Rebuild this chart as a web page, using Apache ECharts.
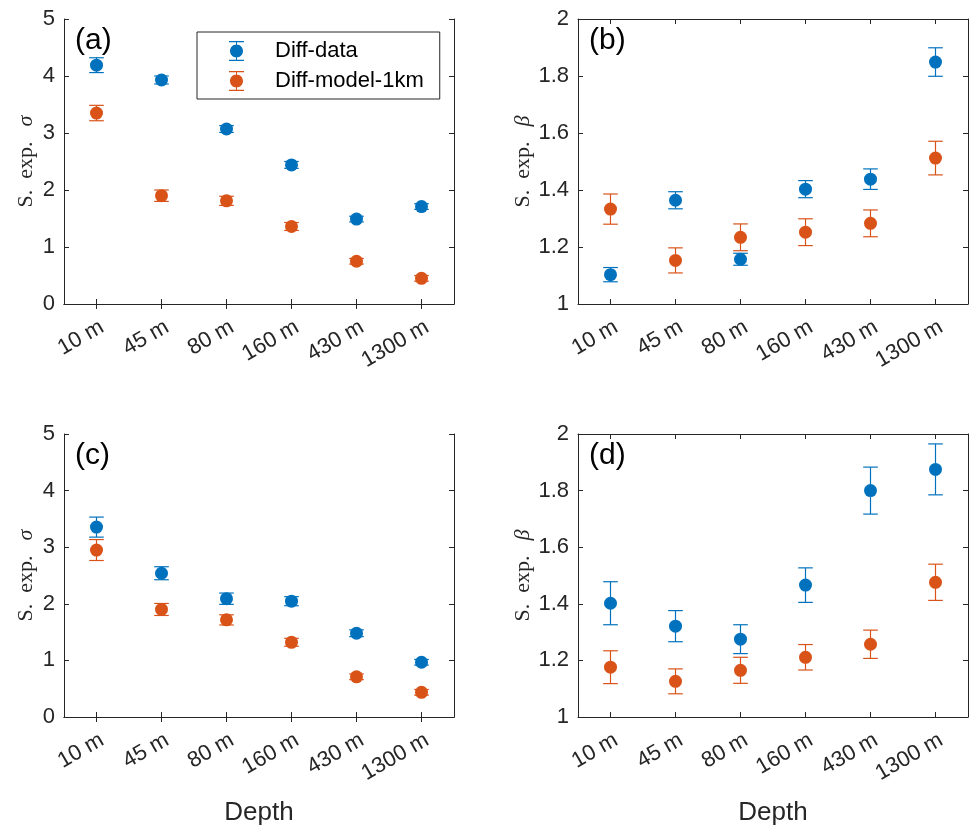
<!DOCTYPE html>
<html>
<head>
<meta charset="utf-8">
<script src="https://cdn.jsdelivr.net/npm/echarts@6/dist/echarts.min.js"></script>
<style>
html,body{margin:0;padding:0;background:#fff;}
#chart{width:979px;height:838px;}
</style>
</head>
<body>
<div id="chart"></div>
<script>
// ---- data ----
const categories = ['10 m', '45 m', '80 m', '160 m', '430 m', '1300 m'];
const seriesNames = ['Diff-data', 'Diff-model-1km'];

// (a) sigma
const aDataVal  = [4.19, 3.93, 3.07, 2.44, 1.49, 1.71];
const aDataErr  = [0.13, 0.07, 0.06, 0.06, 0.05, 0.05];
const aModelVal = [3.35, 1.90, 1.81, 1.36, 0.75, 0.45];
const aModelErr = [0.135, 0.10, 0.08, 0.07, 0.05, 0.05];
// (b) beta
const bDataVal  = [1.103, 1.364, 1.157, 1.403, 1.438, 1.849];
const bDataErr  = [0.025, 0.030, 0.021, 0.030, 0.036, 0.050];
const bModelVal = [1.333, 1.153, 1.234, 1.252, 1.283, 1.512];
const bModelErr = [0.053, 0.044, 0.047, 0.047, 0.047, 0.059];
// (c) sigma
const cDataVal  = [3.355, 2.54, 2.09, 2.046, 1.48, 0.967];
const cDataErr  = [0.177, 0.115, 0.10, 0.08, 0.06, 0.05];
const cModelVal = [2.95, 1.90, 1.716, 1.32, 0.71, 0.436];
const cModelErr = [0.185, 0.106, 0.09, 0.07, 0.05, 0.05];
// (d) beta
const dDataVal  = [1.402, 1.321, 1.275, 1.466, 1.800, 1.875];
const dDataErr  = [0.076, 0.055, 0.051, 0.061, 0.083, 0.090];
const dModelVal = [1.176, 1.126, 1.165, 1.211, 1.257, 1.476];
const dModelErr = [0.058, 0.044, 0.046, 0.045, 0.050, 0.064];

const sigmaTicks = [0, 5, 1];
const betaTicks = [1, 2, 0.2];
const panelLabels = ['(a)', '(b)', '(c)', '(d)'];

// ---- styling ----
const BLUE = '#0072BD', ORANGE = '#D95319', INK = '#262626';
const SANS = 'Liberation Sans, Arial, Helvetica, sans-serif';
const SERIF = 'Liberation Serif, Times New Roman, serif';

const panels = [
  {grid:{left:64, top:19, width:390, height:285}, dv:aDataVal, de:aDataErr, mv:aModelVal, me:aModelErr, ticks:sigmaTicks, sym:'σ', xname:''},
  {grid:{left:578, top:19, width:390, height:285}, dv:bDataVal, de:bDataErr, mv:bModelVal, me:bModelErr, ticks:betaTicks, sym:'β', xname:''},
  {grid:{left:64, top:434, width:390, height:283}, dv:cDataVal, de:cDataErr, mv:cModelVal, me:cModelErr, ticks:sigmaTicks, sym:'σ', xname:'Depth'},
  {grid:{left:578, top:434, width:390, height:283}, dv:dDataVal, de:dDataErr, mv:dModelVal, me:dModelErr, ticks:betaTicks, sym:'β', xname:'Depth'}
];

function errData(vals, errs) {
  return vals.map((v, i) => [i, v - errs[i], v + errs[i]]);
}

function renderErr(params, api) {
  const x = api.value(0), lo = api.value(1), hi = api.value(2);
  const pHi = api.coord([x, hi]);
  const pLo = api.coord([x, lo]);
  const hw = 7.3;
  const col = api.visual('color');
  const st = () => ({stroke: col, lineWidth: 1.2, fill: null});
  return {
    type: 'group',
    children: [
      {type:'line', shape:{x1:pHi[0], y1:pHi[1], x2:pLo[0], y2:pLo[1]}, style: st()},
      {type:'line', shape:{x1:pHi[0]-hw, y1:pHi[1], x2:pHi[0]+hw, y2:pHi[1]}, style: st()},
      {type:'line', shape:{x1:pLo[0]-hw, y1:pLo[1], x2:pLo[0]+hw, y2:pLo[1]}, style: st()}
    ]
  };
}

const grids = [], xAxes = [], yAxes = [], series = [], titles = [];

panels.forEach((p, k) => {
  grids.push(Object.assign({show:false}, p.grid));
  const line = {show:true, lineStyle:{color:INK, width:1}};
  const tick = {show:true, inside:true, length:5, alignWithLabel:true, lineStyle:{color:INK, width:1}};
  // bottom x
  xAxes.push({
    type:'category', data:categories, gridIndex:k, position:'bottom', boundaryGap:true,
    axisLine:line, axisTick:tick,
    axisLabel:{rotate:30, fontSize:22, color:INK, fontFamily:SANS, margin:12, verticalAlign:'top', align:'right'},
    name:p.xname, nameLocation:'middle', nameGap:83,
    nameTextStyle:{fontSize:26, color:INK, fontFamily:SANS},
    splitLine:{show:false}
  });
  // top x (box)
  xAxes.push({
    type:'category', data:categories, gridIndex:k, position:'top', boundaryGap:true,
    axisLine:line, axisTick:tick, axisLabel:{show:false}, splitLine:{show:false}
  });
  const ytick = {show:true, inside:true, length:5, lineStyle:{color:INK, width:1}};
  yAxes.push({
    type:'value', gridIndex:k, position:'left', min:p.ticks[0], max:p.ticks[1], interval:p.ticks[2],
    axisLine:line, axisTick:ytick, splitLine:{show:false},
    axisLabel:{fontSize:22, color:INK, fontFamily:SANS, margin:9},
    name:'{n|S.\u2002exp.\u2002}{s|' + p.sym + '}', nameLocation:'middle', nameGap:27,
    nameTextStyle:{
      color:INK, fontFamily:SERIF, fontSize:22,
      rich:{
        n:{fontFamily:SERIF, fontSize:22, color:INK},
        s:{fontFamily:SERIF, fontSize:22, color:INK, fontStyle:'italic', padding:[0,0,0,4]}
      }
    }
  });
  yAxes.push({
    type:'value', gridIndex:k, position:'right', min:p.ticks[0], max:p.ticks[1], interval:p.ticks[2],
    axisLine:line, axisTick:ytick, splitLine:{show:false}, axisLabel:{show:false}
  });
  const xi = 2*k, yi = 2*k;
  series.push({
    type:'custom', name:'Diff-data-err', xAxisIndex:xi, yAxisIndex:yi,
    renderItem:renderErr, itemStyle:{color:BLUE}, encode:{x:0, y:[1,2]},
    data:errData(p.dv, p.de), z:2, silent:true
  });
  series.push({
    type:'custom', name:'Diff-model-err', xAxisIndex:xi, yAxisIndex:yi,
    renderItem:renderErr, itemStyle:{color:ORANGE}, encode:{x:0, y:[1,2]},
    data:errData(p.mv, p.me), z:2, silent:true
  });
  series.push({
    type:'scatter', name:seriesNames[0], xAxisIndex:xi, yAxisIndex:yi,
    data:p.dv, symbol:'circle', symbolSize:13, itemStyle:{color:BLUE, opacity:1}, z:3
  });
  series.push({
    type:'scatter', name:seriesNames[1], xAxisIndex:xi, yAxisIndex:yi,
    data:p.mv, symbol:'circle', symbolSize:13, itemStyle:{color:ORANGE, opacity:1}, z:3
  });
  titles.push({
    text:panelLabels[k], left:p.grid.left + 11, top:p.grid.top + 7,
    textStyle:{fontSize:30, fontWeight:'normal', color:'#000', fontFamily:SANS}, padding:0
  });
});

// error-bar legend icon: bar + two caps + filled circle (all subpaths clockwise)
const errIcon = 'path://M7,0 h1 v20 h-1 Z M0,0 h15 v1.2 h-15 Z M0,18.8 h15 v1.2 h-15 Z ' +
  'M7.5,3.5 C11.09,3.5 14,6.41 14,10 C14,13.59 11.09,16.5 7.5,16.5 C3.91,16.5 1,13.59 1,10 C1,6.41 3.91,3.5 7.5,3.5 Z';

const option = {
  animation:false,
  backgroundColor:'#fff',
  title:titles,
  grid:grids,
  xAxis:xAxes,
  yAxis:yAxes,
  legend:{
    orient:'vertical', left:197, top:32,
    padding:[8, 16, 7, 32],
    itemWidth:15, itemHeight:20, itemGap:8,
    borderColor:INK, borderWidth:1, backgroundColor:'#fff',
    textStyle:{fontSize:22, color:'#000', fontFamily:SANS, padding:[3, 0, 0, 26]},
    data:[
      {name:seriesNames[0], icon:errIcon},
      {name:seriesNames[1], icon:errIcon}
    ],
    selectedMode:false
  },
  series:series
};

const chart = echarts.init(document.getElementById('chart'), null, {renderer:'canvas'});
chart.setOption(option);
</script>
</body>
</html>
